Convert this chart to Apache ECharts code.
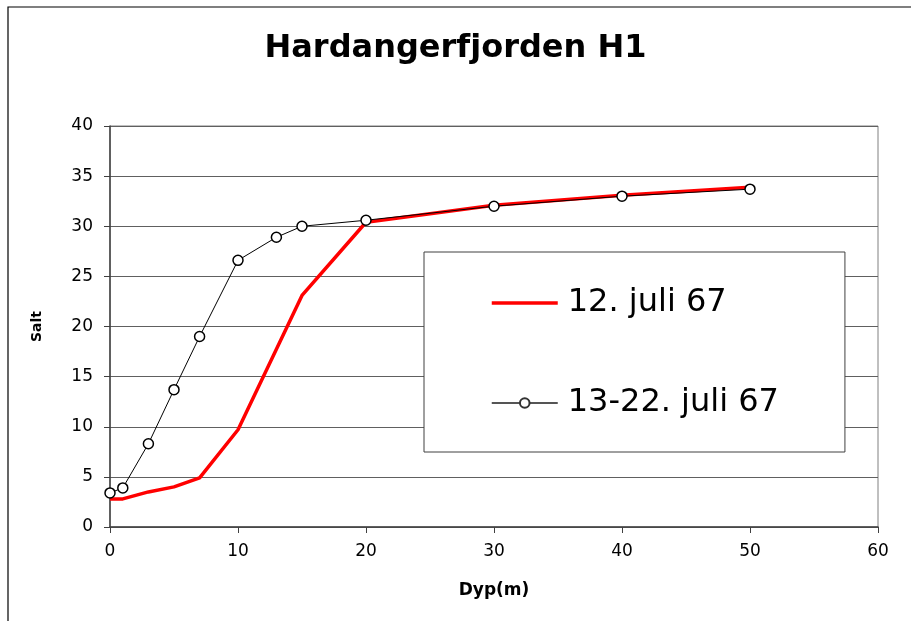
<!DOCTYPE html>
<html lang="no">
<head>
<meta charset="UTF-8">
<title>Hardangerfjorden H1</title>
<script src="https://cdn.jsdelivr.net/npm/echarts@6/dist/echarts.min.js"></script>
<style>
html, body { margin: 0; padding: 0; background: #fff; }
#chart { width: 911px; height: 621px; }
</style>
</head>
<body>
<div id="chart"></div>
<script>
// data
var depth1 = [0, 1, 3, 5, 7, 10, 15, 20, 30, 40, 50];
var salt1  = [2.8, 2.8, 3.5, 4.0, 4.9, 9.7, 23.1, 30.4, 32.1, 33.1, 33.9];
var depth2 = [0, 1, 3, 5, 7, 10, 13, 15, 20, 30, 40, 50];
var salt2  = [3.4, 3.9, 8.3, 13.7, 19.0, 26.6, 28.9, 30.0, 30.6, 32.0, 33.0, 33.7];
var names  = ['12. juli 67', '13-22. juli 67'];

function pairs(xs, ys){
    return xs.map(function(x, i){ return [x, ys[i]]; });
}

// the original text is wide, DejaVu Sans fits it better than Arial
var font = '"DejaVu Sans", sans-serif';

var option = {
    animation: false,
    backgroundColor: '#fff',
    title: {
        text: 'Hardangerfjorden H1',
        left: 'center',
        top: 28,
        textStyle: { fontFamily: font, fontSize: 32, fontWeight: 'bold', color: '#000' }
    },
    graphic: [{
        type: 'rect',
        shape: { x: 8, y: 7, width: 920, height: 640 },
        style: { fill: 'none', stroke: '#000', lineWidth: 1.2 },
        silent: true
    }],
    legend: {
        orient: 'vertical',
        left: 424,
        top: 252,
        padding: [34, 66, 32, 66],
        itemWidth: 66,
        itemHeight: 12,
        itemGap: 66,
        backgroundColor: '#fff',
        borderColor: '#404040',
        borderWidth: 1,
        textStyle: { fontFamily: font, fontSize: 32, color: '#000', lineHeight: 34, padding: [0, 0, 0, 5] },
        data: [
            { name: names[0], itemStyle: { opacity: 0 }, lineStyle: { width: 3.5 } },
            { name: names[1], lineStyle: { color: '#555' }, itemStyle: { borderColor: '#333' } }
        ]
    },
    grid: {
        left: 110, right: 33, top: 126, bottom: 94,
        show: true,
        borderColor: '#808080',
        borderWidth: 1
    },
    xAxis: {
        type: 'value',
        min: 0, max: 60, interval: 10,
        name: 'Dyp(m)',
        nameLocation: 'middle',
        nameGap: 55,
        nameTextStyle: { fontFamily: font, fontSize: 17, fontWeight: 'bold', color: '#000' },
        axisLine: { show: true, lineStyle: { color: '#404040', width: 1.5 } },
        axisTick: { show: true, length: 6, lineStyle: { color: '#404040' } },
        axisLabel: { fontFamily: font, fontSize: 17, color: '#000', margin: 16 },
        splitLine: { show: false }
    },
    yAxis: {
        type: 'value',
        min: 0, max: 40, interval: 5,
        name: 'Salt',
        nameLocation: 'middle',
        nameGap: 66,
        nameRotate: 90,
        nameTextStyle: { fontFamily: font, fontSize: 14, fontWeight: 'bold', color: '#000' },
        axisLine: { show: true, lineStyle: { color: '#404040', width: 1.5 } },
        axisTick: { show: true, length: 6, lineStyle: { color: '#404040' } },
        axisLabel: { fontFamily: font, fontSize: 17, color: '#000', margin: 17 },
        splitLine: { show: true, lineStyle: { color: '#606060', width: 1 } }
    },
    series: [
        {
            name: names[0],
            type: 'line',
            data: pairs(depth1, salt1),
            showSymbol: false,
            symbol: 'none',
            lineStyle: { color: '#ff0000', width: 3.5 },
            itemStyle: { color: '#ff0000' }
        },
        {
            name: names[1],
            type: 'line',
            data: pairs(depth2, salt2),
            symbol: 'circle',
            symbolSize: 10,
            lineStyle: { color: '#000', width: 1 },
            itemStyle: { color: '#fff', borderColor: '#000', borderWidth: 1.5 }
        }
    ]
};

var chart = echarts.init(document.getElementById('chart'));
chart.setOption(option);
</script>
</body>
</html>
